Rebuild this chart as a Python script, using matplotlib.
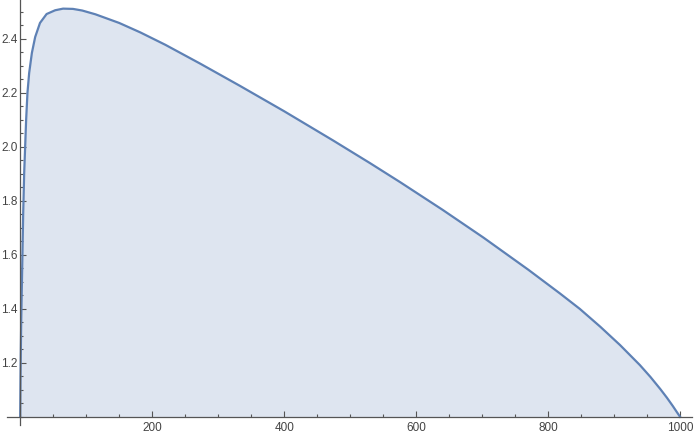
import matplotlib.pyplot as plt
from matplotlib.ticker import MultipleLocator

# points
xs = [0, 0.5, 1.5, 3, 4.5, 6, 7.5, 9, 11, 13.6, 17.7, 22.7, 30, 40, 53, 65,
      80, 94, 114, 150, 182, 220, 273, 333, 400, 474, 530, 576, 640, 702,
      770, 818, 848, 879, 909, 939, 955, 970, 980, 989, 995, 1000]
ys = [1.0, 1.15, 1.35, 1.55, 1.75, 1.9, 2.0, 2.1, 2.2, 2.274, 2.348, 2.407,
      2.459, 2.492, 2.506, 2.512, 2.511, 2.505, 2.491, 2.459, 2.424, 2.378,
      2.308, 2.226, 2.132, 2.024, 1.940, 1.869, 1.767, 1.664, 1.545, 1.457,
      1.400, 1.334, 1.266, 1.192, 1.148, 1.103, 1.071, 1.040, 1.018, 1.0]

xticks = [200, 400, 600, 800, 1000]
yticks = [1.2, 1.4, 1.6, 1.8, 2.0, 2.2, 2.4]

blue = '#5E81B5'
axcol = '#555555'

fig = plt.figure(figsize=(6.95, 4.36), dpi=100)
ax = fig.add_axes([7 / 695, 11 / 436, 685 / 695, 425 / 436])

ax.fill_between(xs, 1.0, ys, color=blue, alpha=0.2, lw=0)
ax.plot(xs, ys, color=blue, lw=1.6, solid_joinstyle='round')

ax.set_xlim(-20, 1018)
ax.set_ylim(0.97, 2.544)

for s in ['top', 'right']:
    ax.spines[s].set_visible(False)
ax.spines['left'].set_position(('data', 0))
ax.spines['bottom'].set_position(('data', 1.0))
for s in ['left', 'bottom']:
    ax.spines[s].set_color(axcol)
    ax.spines[s].set_linewidth(0.9)

ax.set_xticks(xticks)
ax.set_yticks(yticks)
ax.set_yticklabels([f'{v:.1f}' for v in yticks])
ax.xaxis.set_minor_locator(MultipleLocator(50))
ax.yaxis.set_minor_locator(MultipleLocator(0.05))
ax.tick_params(which='both', direction='in', color=axcol, width=0.8,
               labelcolor='#444444', labelsize=8.5)
ax.tick_params(axis='y', pad=2)
ax.tick_params(axis='x', pad=4)
ax.tick_params(which='major', length=4)
ax.tick_params(which='minor', length=2.5)
for t in ax.get_xticklabels() + ax.get_yticklabels():
    t.set_fontfamily(['Liberation Sans', 'DejaVu Sans'])

ax.patch.set_visible(False)
fig.savefig('out.png', dpi=100)
